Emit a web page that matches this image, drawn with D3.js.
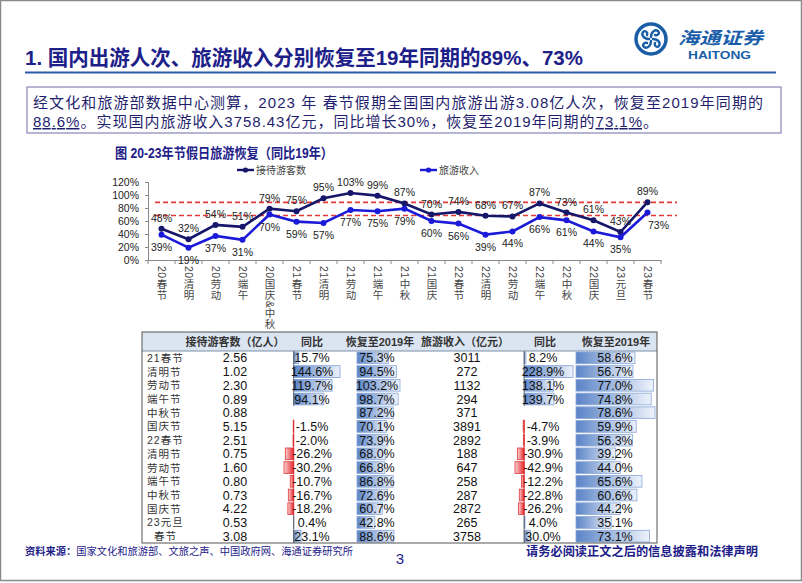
<!DOCTYPE html>
<html>
<head>
<meta charset="utf-8">
<script src="https://cdn.jsdelivr.net/npm/d3@7"></script>
<style>
  body { margin: 0; background: #fff; }
  svg text { font-family: "Liberation Sans", Arial, "Noto Sans CJK SC", sans-serif; }
</style>
</head>
<body>
<svg id="slide" width="802" height="583"></svg>
<script>
// chart data (recovery vs same period of 2019, %)
var categories = ['20春节', '20清明', '20劳动', '20端午', '20国庆&中秋', '21春节', '21清明', '21劳动', '21端午', '21中秋',
                  '21国庆', '22春节', '22清明', '22劳动', '22端午', '22中秋', '22国庆', '23元旦', '23春节'];
var visitorRecovery = [48, 32, 54, 51, 79, 75, 95, 103, 99, 87, 70, 74, 68, 67, 87, 73, 61, 43, 89];
var revenueRecovery = [39, 19, 37, 31, 70, 59, 57, 77, 75, 79, 60, 56, 39, 44, 66, 61, 44, 35, 73];
var refLines = [88.6, 68.5];
var yTicks = [0, 20, 40, 60, 80, 100, 120];
var seriesNames = ['接待游客数', '旅游收入'];

// table data
var rowLabels = ['21春节', '清明节', '劳动节', '端午节', '中秋节', '国庆节', '22春节', '清明节', '劳动节', '端午节', '中秋节', '国庆节', '23元旦', '春节'];
var visitors = [2.56, 1.02, 2.30, 0.89, 0.88, 5.15, 2.51, 0.75, 1.60, 0.80, 0.73, 4.22, 0.53, 3.08];
var visitorsYoy = [15.7, 144.6, 119.7, 94.1, null, -1.5, -2.0, -26.2, -30.2, -10.7, -16.7, -18.2, 0.4, 23.1];
var visitorsRec = [75.3, 94.5, 103.2, 98.7, 87.2, 70.1, 73.9, 68.0, 66.8, 86.8, 72.6, 60.7, 42.8, 88.6];
var revenue = [3011, 272, 1132, 294, 371, 3891, 2892, 188, 647, 258, 287, 2872, 265, 3758];
var revenueYoy = [8.2, 228.9, 138.1, 139.7, null, -4.7, -3.9, -30.9, -42.9, -12.2, -22.8, -26.2, 4.0, 30.0];
var revenueRec = [58.6, 56.7, 77.0, 74.8, 78.6, 59.9, 56.3, 39.2, 44.0, 65.6, 60.6, 44.2, 35.1, 73.1];
var headers = ['接待游客数（亿人）', '同比', '恢复至2019年', '旅游收入（亿元）', '同比', '恢复至2019年'];

var navy = '#1d2088';
var svg = d3.select('#slide');

// page frame
svg.append('rect').attr('x', 0.5).attr('y', 0.5).attr('width', 801).attr('height', 580)
    .attr('fill', 'none').attr('stroke', '#8a8a8a').attr('stroke-width', 1.5);

// title
svg.append('text').attr('x', 25).attr('y', 65).attr('fill', navy)
    .attr('font-size', 21).attr('font-weight', 'bold')
    .attr('textLength', 558).attr('lengthAdjust', 'spacingAndGlyphs')
    .text('1. 国内出游人次、旅游收入分别恢复至19年同期的89%、73%');
svg.append('line').attr('x1', 25).attr('x2', 776).attr('y1', 72.5).attr('y2', 72.5)
    .attr('stroke', '#2a5ba8').attr('stroke-width', 2);

// logo
var logo = svg.append('g').attr('transform', 'translate(651,39)');
logo.append('circle').attr('r', 15).attr('fill', 'none').attr('stroke', '#1a5ea8').attr('stroke-width', 3.5);
[0, 90, 180, 270].forEach(function (a) {
    logo.append('path').attr('transform', 'rotate(' + a + ')')
        .attr('d', 'M0,-2 C0,-7 4,-10 7,-8 C9,-6 7,-3 4,-4')
        .attr('fill', 'none').attr('stroke', '#1a5ea8').attr('stroke-width', 2.4).attr('stroke-linecap', 'round');
});
svg.append('text').attr('x', 678).attr('y', 44).attr('fill', '#1a5ea8')
    .attr('font-size', 17).attr('font-style', 'italic').attr('font-weight', 'bold')
    .attr('textLength', 85).attr('lengthAdjust', 'spacingAndGlyphs').text('海通证券');
svg.append('text').attr('x', 688).attr('y', 58.5).attr('fill', '#1a5ea8')
    .attr('font-size', 11).attr('font-weight', 'bold')
    .attr('textLength', 63).attr('lengthAdjust', 'spacingAndGlyphs').text('HAITONG');

// intro box
svg.append('rect').attr('x', 27).attr('y', 87).attr('width', 754).attr('height', 46)
    .attr('fill', '#fff').attr('stroke', '#8585b8').attr('stroke-width', 1.2);
svg.append('text').attr('x', 33).attr('y', 108).attr('fill', '#1f1f6e').attr('font-size', 15)
    .attr('textLength', 730).attr('lengthAdjust', 'spacing')
    .text('经文化和旅游部数据中心测算，2023 年 春节假期全国国内旅游出游3.08亿人次，恢复至2019年同期的');
var line2 = svg.append('text').attr('x', 33).attr('y', 127).attr('fill', '#1f1f6e').attr('font-size', 15)
    .attr('textLength', 625).attr('lengthAdjust', 'spacing');
line2.append('tspan').style('text-decoration', 'underline').text('88.6%');
line2.append('tspan').text('。实现国内旅游收入3758.43亿元，同比增长30%，恢复至2019年同期的');
line2.append('tspan').style('text-decoration', 'underline').text('73.1%');
line2.append('tspan').text('。');

// chart title
svg.append('text').attr('x', 115).attr('y', 158).attr('fill', navy)
    .attr('font-size', 14).attr('font-weight', 'bold')
    .attr('textLength', 218).attr('lengthAdjust', 'spacingAndGlyphs')
    .text('图 20-23年节假日旅游恢复（同比19年）');

// line chart
var colors = ['#16166a', '#1a1ad8'];
var x = d3.scaleBand().domain(categories).range([148, 661]);
var y = d3.scaleLinear().domain([0, 120]).range([260, 182]);

var yAxis = svg.append('g').attr('transform', 'translate(148,0)')
    .call(d3.axisLeft(y).tickValues(yTicks).tickSize(3).tickFormat(function (d) { return d + '%'; }));
yAxis.select('.domain').attr('stroke', '#888');
yAxis.selectAll('.tick line').attr('stroke', '#888');
yAxis.selectAll('.tick text').attr('font-size', 10.5).attr('fill', '#222').attr('x', -9)
    .attr('font-family', '"Liberation Sans", Arial, sans-serif');

var xAxis = svg.append('g').attr('transform', 'translate(0,260)')
    .call(d3.axisBottom(x).tickSize(0).tickFormat(''));
xAxis.select('.domain').attr('stroke', '#888');
svg.append('g').selectAll('line').data(categories.concat(['end'])).enter().append('line')
    .attr('x1', function (d, i) { return 148 + i * x.step(); })
    .attr('x2', function (d, i) { return 148 + i * x.step(); })
    .attr('y1', 260).attr('y2', 264).attr('stroke', '#888');

svg.append('g').selectAll('text').data(categories).enter().append('text')
    .attr('x', function (d) { return x(d) + x.bandwidth() / 2; })
    .attr('y', 266)
    .attr('writing-mode', 'vertical-rl')
    .style('text-orientation', 'mixed')
    .style('letter-spacing', '0.5px')
    .attr('font-size', 10.5).attr('fill', '#444')
    .text(function (d) { return d; });

svg.append('g').selectAll('line').data(refLines).enter().append('line')
    .attr('x1', 155).attr('x2', 677)
    .attr('y1', function (d) { return y(d); }).attr('y2', function (d) { return y(d); })
    .attr('stroke', '#e23a3a').attr('stroke-width', 1.6).attr('stroke-dasharray', '5,3');

var cx = function (d, i) { return x(categories[i]) + x.bandwidth() / 2; };
[visitorRecovery, revenueRecovery].forEach(function (vals, s) {
    var line = d3.line().x(cx).y(function (d) { return y(d); });
    svg.append('path').datum(vals).attr('d', line)
        .attr('fill', 'none').attr('stroke', colors[s]).attr('stroke-width', 2.6);
    svg.append('g').selectAll('circle').data(vals).enter().append('circle')
        .attr('cx', cx).attr('cy', function (d) { return y(d); }).attr('r', 3)
        .attr('fill', colors[s]);
    svg.append('g').selectAll('text').data(vals).enter().append('text')
        .attr('x', function (d, i) { return cx(d, i) + (s === 1 && i === vals.length - 1 ? 11 : 0); })
        .attr('y', function (d) { return s === 0 ? y(d) - 7 : y(d) + 16; })
        .attr('text-anchor', 'middle').attr('font-size', 10.5).attr('fill', '#222')
        .attr('font-family', '"Liberation Sans", Arial, sans-serif')
        .text(function (d) { return d + '%'; });
});

// legend
var legendX = [237, 420];
seriesNames.forEach(function (name, s) {
    var g = svg.append('g').attr('transform', 'translate(' + legendX[s] + ',170)');
    g.append('line').attr('x1', 0).attr('x2', 17).attr('stroke', colors[s]).attr('stroke-width', 2.4);
    g.append('circle').attr('cx', 8.5).attr('r', 2.6).attr('fill', colors[s]);
    g.append('text').attr('x', 19).attr('y', 3.5).attr('font-size', 10).attr('fill', '#444').text(name);
});

// table
var tLeft = 142, tRight = 657, tTop = 332, hBottom = 351, tBottom = 543;
var rows = d3.scaleBand().domain(d3.range(rowLabels.length)).range([hBottom, tBottom]);

var defs = svg.append('defs');
var gb = defs.append('linearGradient').attr('id', 'gBlue');
gb.append('stop').attr('offset', 0).attr('stop-color', '#5a84c7');
gb.append('stop').attr('offset', 1).attr('stop-color', '#eef3fb');
var gr = defs.append('linearGradient').attr('id', 'gRed');
gr.append('stop').attr('offset', 0).attr('stop-color', '#fbd3d3');
gr.append('stop').attr('offset', 1).attr('stop-color', '#e5262d');

svg.append('rect').attr('x', tLeft).attr('y', tTop).attr('width', tRight - tLeft).attr('height', hBottom - tTop)
    .attr('fill', '#dbe5f1');
svg.append('line').attr('x1', tLeft).attr('x2', tRight).attr('y1', hBottom).attr('y2', hBottom)
    .attr('stroke', '#7d8ea8').attr('stroke-width', 1);

var headerX = [235, 312, 380, 465, 545, 616];
svg.append('g').selectAll('text').data(headers).enter().append('text')
    .attr('x', function (d, i) { return headerX[i]; }).attr('y', 345.5)
    .attr('text-anchor', 'middle').attr('font-size', 11).attr('font-weight', 'bold').attr('fill', '#333')
    .text(function (d) { return d; });

var rowMid = function (i) { return rows(i) + rows.bandwidth() / 2; };

// bars: 同比 columns with a zero axis, 恢复 columns from zero
function yoyBars(vals, x0, x1) {
    var sc = d3.scaleLinear().domain([d3.min(vals), d3.max(vals)]).range([x0, x1]);
    var g = svg.append('g');
    vals.forEach(function (d, i) {
        if (d === null) return;
        g.append('rect')
            .attr('x', Math.min(sc(d), sc(0)))
            .attr('y', rows(i) + 1)
            .attr('width', Math.abs(sc(d) - sc(0)))
            .attr('height', rows.bandwidth() - 2)
            .attr('fill', d < 0 ? 'url(#gRed)' : 'url(#gBlue)')
            .attr('stroke', d < 0 ? '#e03a3a' : '#7f9fd6')
            .attr('stroke-width', 0.8);
        g.append('line').attr('x1', sc(0)).attr('x2', sc(0))
            .attr('y1', rows(i)).attr('y2', rows(i) + rows.bandwidth())
            .attr('stroke', d < 0 ? '#d42a2a' : '#555').attr('stroke-width', 0.9);
    });
}
function recBars(vals, x0, x1) {
    var sc = d3.scaleLinear().domain([0, d3.max(vals)]).range([x0, x1]);
    svg.append('g').selectAll('rect').data(vals).enter().append('rect')
        .attr('x', x0).attr('y', function (d, i) { return rows(i) + 1; })
        .attr('width', function (d) { return sc(d) - x0; })
        .attr('height', rows.bandwidth() - 2)
        .attr('fill', 'url(#gBlue)').attr('stroke', '#8aa7d8').attr('stroke-width', 0.8);
}
yoyBars(visitorsYoy, 284, 340);
recBars(visitorsRec, 357, 400);
yoyBars(revenueYoy, 515, 573);
recBars(revenueRec, 576, 655);

var pct = function (d) { return d === null ? '' : d.toFixed(1) + '%'; };
var columns = [
    { vals: visitors, x: 235, fmt: function (d) { return d.toFixed(2); } },
    { vals: visitorsYoy, x: 312, fmt: pct },
    { vals: visitorsRec, x: 377, fmt: pct },
    { vals: revenue, x: 467, fmt: function (d) { return String(d); } },
    { vals: revenueYoy, x: 543, fmt: pct },
    { vals: revenueRec, x: 615, fmt: pct }
];
columns.forEach(function (c) {
    svg.append('g').selectAll('text').data(c.vals).enter().append('text')
        .attr('x', c.x).attr('y', function (d, i) { return rowMid(i) + 4.5; })
        .attr('text-anchor', 'middle').attr('font-size', 12.5).attr('fill', '#111')
        .attr('font-family', '"Liberation Sans", Arial, sans-serif')
        .text(c.fmt);
});
svg.append('g').selectAll('text').data(rowLabels).enter().append('text')
    .attr('x', function (d, i) { return i === rowLabels.length - 1 ? 154 : 147; })
    .attr('y', function (d, i) { return rowMid(i) + 4; })
    .attr('font-size', 10.5).attr('fill', '#333')
    .style('letter-spacing', '1px')
    .text(function (d) { return d; });

svg.append('rect').attr('x', tLeft).attr('y', tTop).attr('width', tRight - tLeft).attr('height', tBottom - tTop)
    .attr('fill', 'none').attr('stroke', '#555').attr('stroke-width', 1);

// footer
var src = svg.append('text').attr('x', 25).attr('y', 555).attr('fill', navy).attr('font-size', 10)
    .attr('textLength', 328).attr('lengthAdjust', 'spacingAndGlyphs');
src.append('tspan').attr('font-weight', 'bold').text('资料来源：');
src.append('tspan').text('国家文化和旅游部、文旅之声、中国政府网、海通证券研究所');
svg.append('text').attr('x', 400).attr('y', 564).attr('text-anchor', 'middle')
    .attr('fill', navy).attr('font-size', 15).text('3');
svg.append('text').attr('x', 526).attr('y', 556).attr('fill', navy)
    .attr('font-size', 12.5).attr('font-weight', 'bold')
    .attr('textLength', 232).attr('lengthAdjust', 'spacingAndGlyphs')
    .text('请务必阅读正文之后的信息披露和法律声明');
</script>
</body>
</html>
